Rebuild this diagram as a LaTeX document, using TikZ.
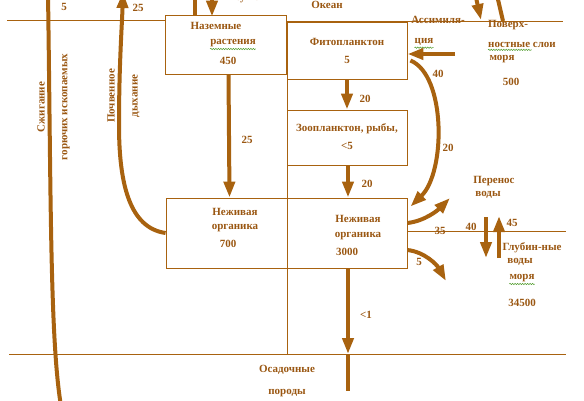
\documentclass[tikz,border=0pt]{standalone}
\usepackage{fontspec}
\setmainfont{Liberation Serif}
\usepackage{tikz}
\usetikzlibrary{arrows.meta,decorations.pathmorphing}
\definecolor{burKor}{HTML}{A8620F}
\definecolor{tekstKor}{HTML}{9A5712}
\definecolor{volnaZel}{HTML}{4E9A2A}

\begin{document}
\begin{tikzpicture}[x=1pt,y=-1pt,
  blok/.style={draw=burKor,line width=0.9pt,inner sep=0pt},
  tekst/.style={text=tekstKor,font=\fontsize{11}{13}\selectfont\bfseries,inner sep=0pt},
  liniya/.style={draw=burKor,line width=0.9pt},
  potok/.style={draw=burKor,line width=4pt,-{Triangle[width=11pt,length=16pt]}},
  shlang/.style={draw=burKor,line width=4pt},
  volna/.style={draw=volnaZel,line width=0.5pt,decorate,
    decoration={snake,amplitude=0.7pt,segment length=2.5pt}}]
\useasboundingbox (0,0) rectangle (584,400);
% granicy sred
\draw[liniya] (7,20) -- (165,20);
\draw[liniya] (286,21) -- (563,21);
\draw[liniya] (287,79) -- (287,354);
\draw[liniya] (9,354) -- (566,354);
\draw[liniya] (407,231) -- (566,231);
% bloki
\node[blok,minimum width=121pt,minimum height=59pt] (nazem) at (225.5,44.5) {};
\node[blok,minimum width=120pt,minimum height=57pt] (fito) at (347,50.5) {};
\node[blok,minimum width=120pt,minimum height=55pt] (zoo) at (347,137.5) {};
\node[blok,minimum width=121pt,minimum height=70pt] (org700) at (226.5,233) {};
\node[blok,minimum width=120pt,minimum height=70pt] (org3000) at (347,233) {};
% podpisi v blokah
\node[tekst] (nazemA) at (216,26) {Наземные};
\node[tekst] (nazemB) at (233,43) {растения};
\node[tekst] (nazemC) at (228,61) {450};
\node[tekst] (fitoA) at (347,42) {Фитопланктон};
\node[tekst] (fitoB) at (347,60) {5};
\node[tekst] (zooA) at (347,129) {Зоопланктон, рыбы,};
\node[tekst] (zooB) at (347,146) {<5};
\node[tekst] (orgA) at (235,212) {Неживая};
\node[tekst] (orgB) at (235,228) {органика};
\node[tekst] (orgC) at (228,244) {700};
\node[tekst] (morgA) at (358,219) {Неживая};
\node[tekst] (morgB) at (358,236) {органика};
\node[tekst] (morgC) at (347,252) {3000};
% sredy
\node[tekst] (susha) at (248,-1) {суша};
\node[tekst] (okean) at (327,5) {Океан};
\node[tekst] (assimA) at (438,20) {Ассимиля-};
\node[tekst] (assimB) at (424,42) {ция};
\node[tekst] (povA) at (508,25) {Поверх-};
\node[tekst] (povB) at (522,45) {ностные слои};
\node[tekst] (povC) at (502,59) {моря};
\node[tekst] (povD) at (511,82) {500};
\node[tekst] (perA) at (494,181) {Перенос};
\node[tekst] (perB) at (488,195) {воды};
\node[tekst] (glubA) at (532,248) {Глубин-ные};
\node[tekst] (glubB) at (520,262) {воды};
\node[tekst] (glubC) at (522,278) {моря};
\node[tekst] (glubD) at (522,303) {34500};
\node[tekst] (osadA) at (287,370) {Осадочные};
\node[tekst] (osadB) at (287,393) {породы};
\node[tekst,rotate=90] (szhA) at (41,107) {Сжигание};
\node[tekst,rotate=90] (szhB) at (66,107) {горючих ископаемых};
\node[tekst,rotate=90] (pochA) at (111,96) {Почвенное};
\node[tekst,rotate=90] (pochB) at (136,96) {дыхание};
% volnistye podcherkivaniya
\draw[volna] ([yshift=-2pt]nazemB.south west) -- ([yshift=-2pt]nazemB.south east);
\draw[volna] ([yshift=-2pt]assimB.south west) -- ([yshift=-2pt]assimB.south east);
\draw[volna] ([yshift=-2pt]povB.south west) -- ([yshift=-2pt,xshift=-24pt]povB.south east);
\draw[volna] ([yshift=-2pt]glubC.south west) -- ([yshift=-2pt]glubC.south east);
% chisla
\node[tekst] (v5) at (64,7) {5};
\node[tekst] (v25) at (138,8) {25};
\node[tekst] (vFZ) at (365,99) {20};
\node[tekst] (vZO) at (367,184) {20};
\node[tekst] (vNO) at (247,140) {25};
\node[tekst] (vAs) at (438,74) {40};
\node[tekst] (vFO) at (448,148) {20};
\node[tekst] (vPer) at (440,231) {35};
\node[tekst] (vVniz) at (471,227) {40};
\node[tekst] (vVverh) at (512,223) {45};
\node[tekst] (vGlub) at (419,262) {5};
\node[tekst] (vOsad) at (366,315) {<1};
% koncy strelok za kraem
\coordinate (szhVerh) at (48,-6);
\coordinate (szhNiz) at (61,406);
\coordinate (pochVerh) at (123,-8);
\coordinate (nazVverh) at (195,-20);
\coordinate (nazSverhu) at (212,-22);
\coordinate (povVniz) at (473,-16);
\coordinate (povVverh) at (493,-22);
\coordinate (assimOtk) at (455,54);
\coordinate (osadDno) at (348,354);
\coordinate (osadNiz) at (348,391);
\coordinate (perKonec) at (450,198);
\coordinate (glubKonec) at (446,281);
\coordinate (vnizA) at (486,217);
\coordinate (vnizB) at (486,258);
\coordinate (vverhA) at (499,258);
\coordinate (vverhB) at (499,216);
% potoki
\draw[potok] ([xshift=3pt]nazem.south) -- ([xshift=3pt]org700.north);
\draw[potok] (fito.south) -- (zoo.north);
\draw[potok] ([xshift=1pt]zoo.south) -- ([xshift=1pt]org3000.north);
\draw[potok] ([xshift=1pt]org3000.south) -- (osadDno);
\draw[shlang] (osadDno) -- (osadNiz);
\draw[potok] (assimOtk) -- ([yshift=-3.5pt]fito.east);
\draw[potok] ([yshift=-10pt,xshift=3pt]fito.east) .. controls (446,75) and (446,172) .. ([yshift=-9pt,xshift=3pt]org3000.north east);
\draw[potok] ([yshift=10pt]org3000.east) .. controls (425,221) and (438,210) .. (perKonec);
\draw[potok] ([yshift=-17pt]org3000.east) .. controls (425,252) and (437,265) .. (glubKonec);
\draw[potok] (vnizA) -- (vnizB);
\draw[potok] (vverhA) -- (vverhB);
\draw[shlang] (szhNiz) .. controls (50,340) and (51,200) .. (szhVerh);
\draw[potok] (org700.west) .. controls (130,228) and (119,185) .. (119,125) .. controls (119,65) and (122,25) .. (pochVerh);
\draw[potok] ([xshift=-30.5pt]nazem.north) -- (nazVverh);
\draw[potok] (nazSverhu) -- ([xshift=-13.5pt,yshift=-2pt]nazem.north);
\draw[potok] (povVniz) -- (481,20);
\draw[potok] (503,21) -- (povVverh);
\end{tikzpicture}
\end{document}
